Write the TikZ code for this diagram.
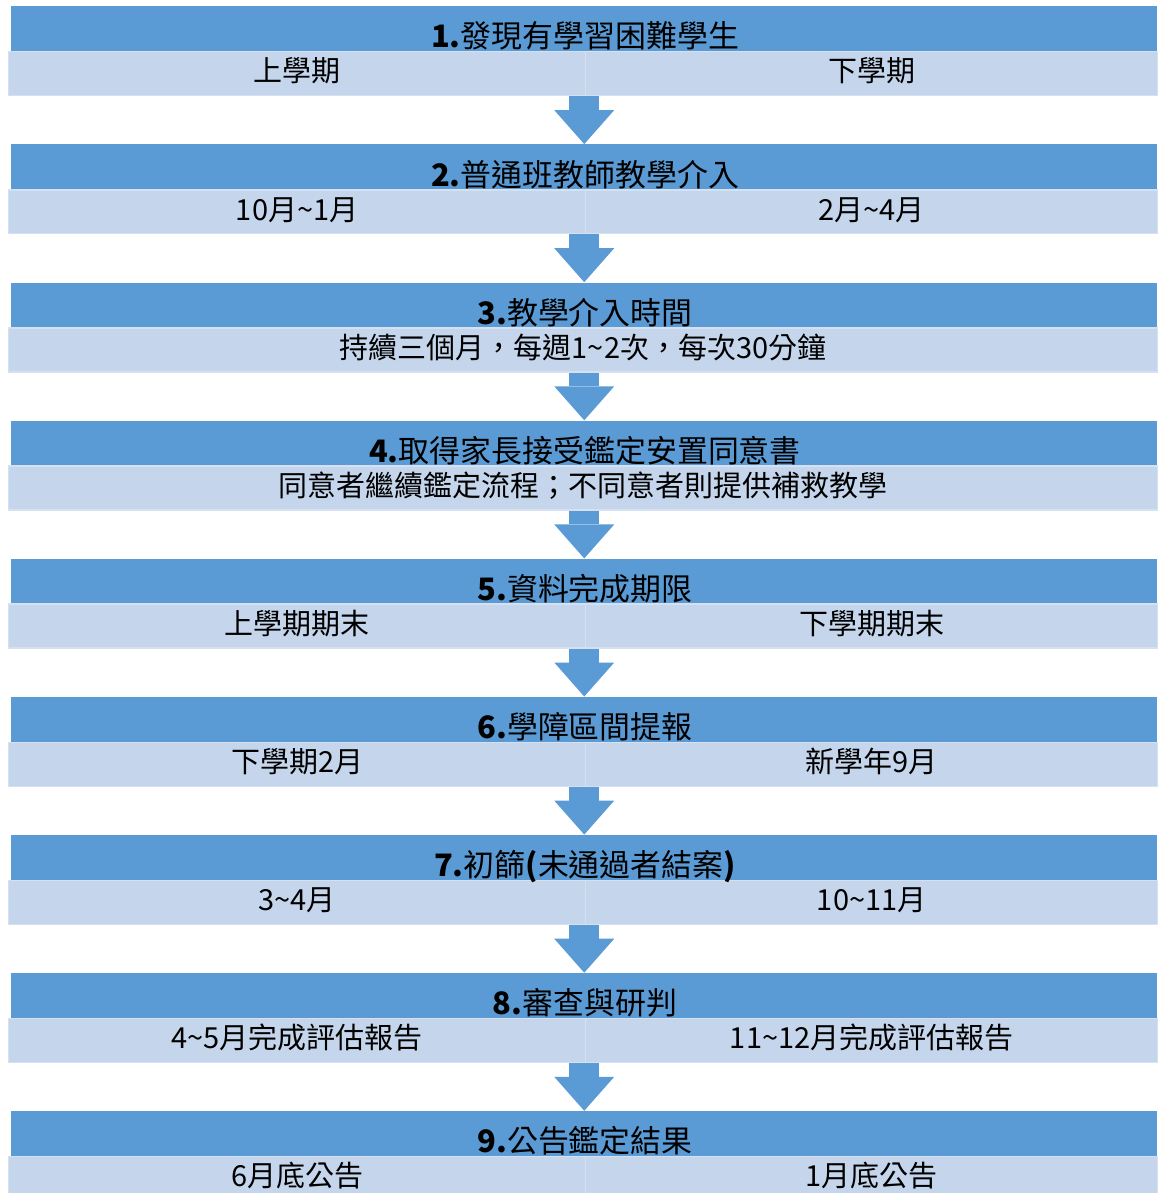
\documentclass[tikz,border=0pt]{standalone}
\usepackage{fontspec}
\setmainfont{Noto Sans CJK TC}
\usetikzlibrary{arrows.meta}
\definecolor{stepblue}{HTML}{5B9BD5}
\definecolor{cellblue}{HTML}{C5D6EC}
\definecolor{cellline}{HTML}{D5E1F1}
\tikzset{
  stepbar/.style={fill=stepblue, minimum width=22.92cm, minimum height=0.9cm, inner sep=0pt, anchor=north west},
  stepcell/.style={fill=cellblue, draw=cellline, line width=0.8pt, minimum height=0.88cm, inner sep=0pt, anchor=north west,
    text height=1.04em, text depth=0.1em, font=\fontsize{16.5}{18}\selectfont},
  steptitle/.style={anchor=base, inner sep=0pt, font=\fontsize{17.6}{20}\selectfont},
  flow/.style={stepblue, line width=0.6cm, -{Triangle[width=1.2cm, length=0.68cm, line width=0pt]}}
}

\begin{document}
\begin{tikzpicture}[x=0.02cm, y=-0.02cm]
  \useasboundingbox (0,0) rectangle (1157,1193);

  % blue bars
  \foreach \i in {1,...,9} {
    \pgfmathsetmacro\ytop{6+138.1*(\i-1)}
    \node[stepbar] (bar\i) at (11,\ytop) {};
  }

  % light cells, two semesters
  \foreach \i/\lft/\rgt in {1/上學期/下學期,
      2/10月\textasciitilde 1月/2月\textasciitilde 4月,
      5/上學期期末/下學期期末,
      6/下學期2月/新學年9月,
      7/3\textasciitilde 4月/10\textasciitilde 11月,
      8/4\textasciitilde 5月完成評估報告/11\textasciitilde 12月完成評估報告,
      9/6月底公告/1月底公告} {
    \pgfmathsetmacro\ytop{6+138.1*(\i-1)}
    \node[stepcell, minimum width=11.54cm] (l\i) at (8,{\ytop+45}) {\lft};
    \node[stepcell, minimum width=11.44cm] (r\i) at (585,{\ytop+45}) {\rgt};
  }

  % light cells, one line
  \foreach \i/\lft in {3/持續三個月，每週1\textasciitilde 2次，每次30分鐘,
      4/同意者繼續鑑定流程；不同意者則提供補救教學} {
    \pgfmathsetmacro\ytop{6+138.1*(\i-1)}
    \node[stepcell, minimum width=22.98cm] (l\i) at (8,{\ytop+45}) {\lft};
  }

  % titles
  \foreach \i/\heading in {1/發現有學習困難學生, 2/普通班教師教學介入, 3/教學介入時間,
      4/取得家長接受鑑定安置同意書, 5/資料完成期限, 6/學障區間提報,
      7/初篩{\bfseries(}未通過者結案{\bfseries)}, 8/審查與研判, 9/公告鑑定結果} {
    \pgfmathsetmacro\ytop{6+138.1*(\i-1)}
    \node[steptitle] (title\i) at (585,{\ytop+42}) {{\bfseries\i.}\heading};
  }

  % arrows
  \foreach \i in {1,...,8} {
    \pgfmathtruncatemacro\j{\i+1}
    \draw[flow] (bar\i.south |- l\i.south) -- (bar\j.north);
  }
\end{tikzpicture}
\end{document}
